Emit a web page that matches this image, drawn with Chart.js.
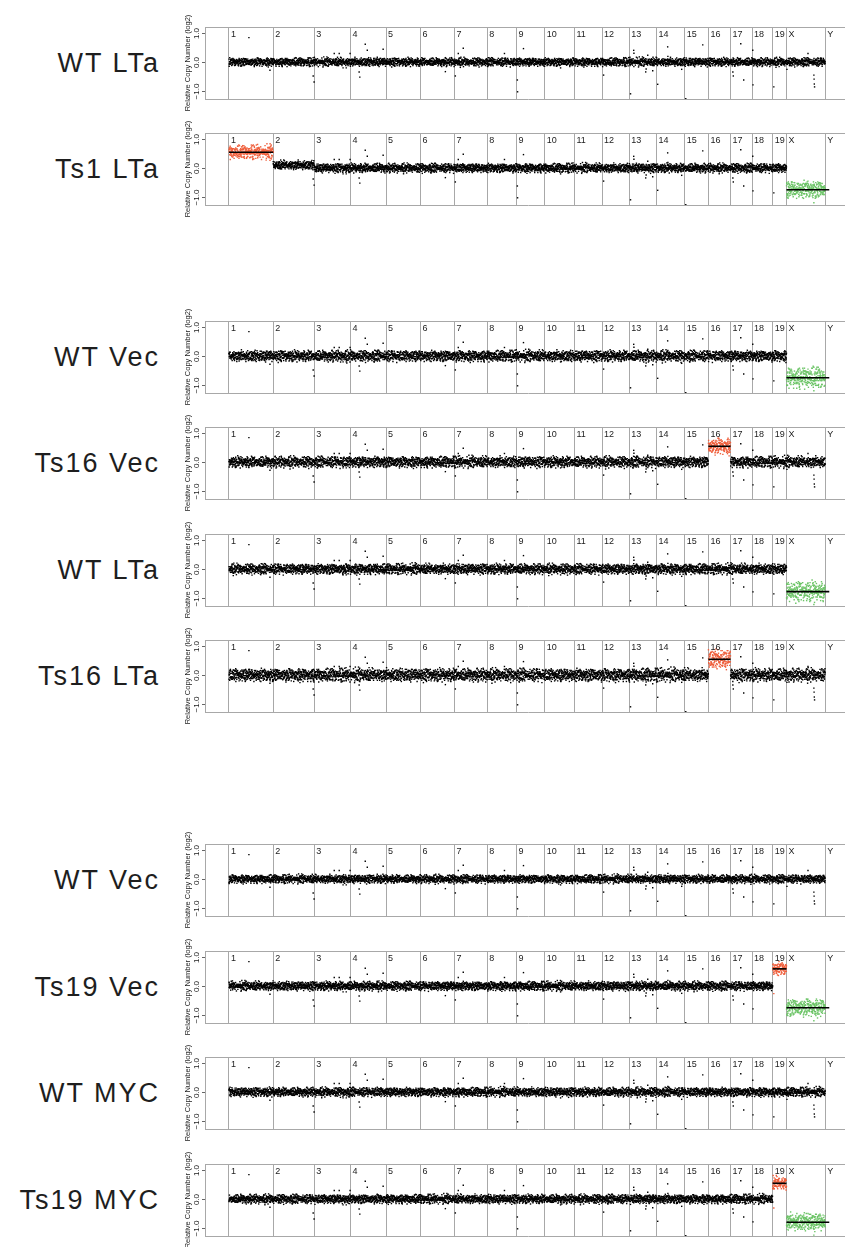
<!DOCTYPE html>
<html>
<head>
<meta charset="utf-8">
<script src="https://cdn.jsdelivr.net/npm/chart.js@4.4.1/dist/chart.umd.min.js"></script>
<style>
    html, body {
        margin: 0;
        padding: 0;
        background: #fff;
        overflow: hidden;
        width: 845px;
        height: 1247px;
    }
    .label {
        position: absolute;
        left: 0;
        width: 160px;
        text-align: right;
        font-family: "Liberation Sans", Arial, Helvetica, sans-serif;
        font-size: 27px;
        line-height: 30px;
        color: #1e1e1e;
        letter-spacing: 2px;
        white-space: nowrap;
    }
    canvas {
        position: absolute;
        left: 170px;
    }
</style>
</head>
<body>
<script>
    // chromosomes (mouse, Mb)
    const chromNames = ['1','2','3','4','5','6','7','8','9','10','11','12','13','14','15','16','17','18','19','X','Y']
    const chromLengths = [195,182,160,157,152,150,145,129,125,131,122,120,121,125,104,98,95,91,61,171,92]

    const panelLabels = ['WT LTa','Ts1 LTa','WT Vec','Ts16 Vec','WT LTa','Ts16 LTa','WT Vec','Ts19 Vec','WT MYC','Ts19 MYC']

    // segment level (log2) for chromosomes 1..19, X in each panel
    const levelsWtLTa1  = [0,0,0,0,0,0,0,0,0,0,0,0,0,0,0,0,0,0,0,0]
    const levelsTs1LTa  = [0.55,0.1,0,0,0,0,0,0,0,0,0,0,0,0,0,0,0,0,0,-0.75]
    const levelsWtVec1  = [0,0,0,0,0,0,0,0,0,0,0,0,0,0,0,0,0,0,0,-0.75]
    const levelsTs16Vec = [0,0,0,0,0,0,0,0,0,0,0,0,0,0,0,0.55,0,0,0,0]
    const levelsWtLTa2  = [0,0,0,0,0,0,0,0,0,0,0,0,0,0,0,0,0,0,0,-0.78]
    const levelsTs16LTa = [0,0,0,0,0,0,0,0,0,0,0,0,0,0,0,0.55,0,0,0,0]
    const levelsWtVec2  = [0,0,0,0,0,0,0,0,0,0,0,0,0,0,0,0,0,0,0,0]
    const levelsTs19Vec = [0,0,0,0,0,0,0,0,0,0,0,0,0,0,0,0,0,0,0.6,-0.75]
    const levelsWtMYC   = [0,0,0,0,0,0,0,0,0,0,0,0,0,0,0,0,0,0,0,0]
    const levelsTs19MYC = [0,0,0,0,0,0,0,0,0,0,0,0,0,0,0,0,0,0,0.55,-0.8]
    const panelLevels = [levelsWtLTa1, levelsTs1LTa, levelsWtVec1, levelsTs16Vec, levelsWtLTa2,
                         levelsTs16LTa, levelsWtVec2, levelsTs19Vec, levelsWtMYC, levelsTs19MYC]

    // how wide the probe cloud is in each panel
    const panelSpread = [1.3, 1.4, 1.7, 1.7, 1.6, 2.0, 1.3, 1.4, 1.4, 1.4]

    // probe scatter round the segment level, hundredths of log2
    const probeNoise = [3,-5,1,7,-2,-8,4,0,-3,6,-1,2,-6,9,-4,1,5,-7,2,-1,8,-3,0,4,-9,3,-2,6,-5,1,
                        -4,7,2,-6,0,3,-1,5,-3,-7,4,1,-2,8,-5,2,0,-4,6,-1,3,-8,5,-2,1,-6,4,0,7,-3,
                        2,-5,-1,6,-4,3,1,-7,5,-2,0,9,-3,4,-6,2,-1,5,-4,1,-8,3,6,-2,0,-5,4,-3,7,1,
                        -6,2,-1,5,-4,3,-2,8,-7,0,4]
    const probeWobble = [0,2,-3,1,4,-1,-4,3,0,-2,5,-3,1,2,-5,0,3,-1,-2,4,1,-4,2]

    // outlying probes: genome position (Mb), offset from segment level
    const outlierPos = [88,181,372,376,465,487,504,518,535,575,578,602,611,655,681,956,1000,1013,1035,1217,
                        1274,1275,1301,1465,1655,1774,1788,1789,1800,1841,1843,1850,1872,1894,1938,1939,2000,2018,2093,2226,
                        2228,2261,2274,2314,2315,2407,2465,2558,2584,2585,2586,2587]
    const outlierVal = [0.85,-0.28,-0.48,-0.69,0.3,0.3,-0.2,-0.2,0.3,-0.34,-0.52,0.62,0.41,0.17,0.45,-0.33,-0.48,0.3,0.48,0.3,
                        -0.62,-1.03,0.47,-0.2,-0.45,-1.1,0.41,0.31,0.17,-0.34,-0.24,0.24,-0.3,-0.77,0.53,0.2,-0.25,-1.27,0.6,-0.34,
                        -0.48,0.64,-0.62,0.41,-0.79,-0.86,-0.25,0.3,-0.45,-0.59,-0.76,-0.86]

    const yTicks = [1, 0, -1]
    const yTickText = ['1.0', '0.0', '\u22121.0']

    const panelTops = [27, 133, 321, 427, 534, 640, 844, 951, 1057, 1164]
    const PAD = 24
    const RED = '#ef5f3c'
    const GREEN = '#6cc467'

    const chromStarts = []
    let acc = 0
    chromLengths.forEach(l => { chromStarts.push(acc); acc += l })

    const frameAndText = {
        id: 'frameAndText',
        afterDraw(chart) {
            const c = chart.ctx
            const a = chart.chartArea
            const xs = chart.scales.x
            const ys = chart.scales.y
            c.save()
            c.strokeStyle = '#a8a8a8'
            c.lineWidth = 1
            c.beginPath()
            c.moveTo(a.left, a.top + 0.5)
            c.lineTo(a.right, a.top + 0.5)
            c.stroke()
            // chromosome names
            c.fillStyle = '#222'
            c.font = '9px "Liberation Sans", Arial, sans-serif'
            c.textBaseline = 'middle'
            c.textAlign = 'left'
            chromNames.forEach((n, i) => {
                c.fillText(n, xs.getPixelForValue(chromStarts[i]) + 2, ys.getPixelForValue(1.0) + 1)
            })
            // y ticks, rotated like R
            c.strokeStyle = '#666'
            yTicks.forEach((v, i) => {
                const py = Math.round(ys.getPixelForValue(v)) + 0.5
                c.beginPath()
                c.moveTo(a.left - 3, py)
                c.lineTo(a.left, py)
                c.stroke()
                c.save()
                c.translate(a.left - 8, py)
                c.rotate(-Math.PI / 2)
                c.textAlign = 'center'
                c.textBaseline = 'middle'
                c.font = '8px "Liberation Sans", Arial, sans-serif'
                c.fillText(yTickText[i], 0, 0)
                c.restore()
            })
            c.save()
            c.translate(a.left - 17, (a.top + a.bottom) / 2)
            c.rotate(-Math.PI / 2)
            c.textAlign = 'center'
            c.textBaseline = 'middle'
            c.font = '7.5px "Liberation Sans", Arial, sans-serif'
            c.fillText('Relative Copy Number (log2)', 0, 0)
            c.restore()
            c.restore()
        }
    }

    const buildPanel = (p) => {
        const levels = panelLevels[p]
        const spread = panelSpread[p]
        const black = [], red = [], green = []
        const bucket = (lv) => lv > 0.3 ? red : (lv < -0.3 ? green : black)
        let k = p * 13
        let w = p * 5
        for (let c = 0; c < 20; c++) {
            const lv = levels[c]
            const pts = bucket(lv)
            const s = spread * (Math.abs(lv) < 0.3 ? 1 : 1.5) * (c === 19 && lv < -0.3 ? 1.3 : 1)
            for (let m = 0.3; m < chromLengths[c]; m += 0.6) {
                k = (k + 37) % probeNoise.length
                w = (w + 7) % probeWobble.length
                pts.push({x: chromStarts[c] + m, y: lv + (probeNoise[k] + probeWobble[w]) * 0.01 * s})
            }
        }
        outlierPos.forEach((pos, i) => {
            let c = 0
            while (c < 19 && pos >= chromStarts[c + 1]) c++
            bucket(levels[c]).push({x: pos, y: levels[c] + outlierVal[i]})
        })
        const datasets = [
            {data: black, backgroundColor: '#000'},
            {data: red, backgroundColor: RED},
            {data: green, backgroundColor: GREEN}
        ].map(d => Object.assign(d, {type: 'scatter', pointRadius: 1, pointStyle: 'rect', borderWidth: 0, order: 2}))
        levels.forEach((lv, c) => {
            if (Math.abs(lv) < 0.3) return
            const end = chromStarts[c] + chromLengths[c] + (c === 19 ? 18 : 0)
            datasets.push({
                type: 'line', order: 1,
                data: [{x: chromStarts[c], y: lv}, {x: end, y: lv}],
                borderColor: '#000', borderWidth: 1.6, pointRadius: 0
            })
        })
        return datasets
    }

    panelLabels.forEach((name, p) => {
        const top = panelTops[p]
        const lab = document.createElement('div')
        lab.className = 'label'
        lab.style.top = (top + 36 - 15) + 'px'
        lab.textContent = name
        document.body.appendChild(lab)

        const cv = document.createElement('canvas')
        cv.width = 685
        cv.height = 72 + 2 * PAD
        cv.style.top = (top - PAD) + 'px'
        document.body.appendChild(cv)

        new Chart(cv.getContext('2d'), {
            type: 'scatter',
            data: {datasets: buildPanel(p)},
            options: {
                responsive: false,
                animation: false,
                devicePixelRatio: 1,
                events: [],
                layout: {padding: {top: PAD, bottom: PAD, left: 0, right: 0}},
                plugins: {legend: {display: false}, tooltip: {enabled: false}},
                scales: {
                    x: {
                        type: 'linear', min: -106, max: 2748,
                        ticks: {display: false},
                        grid: {color: '#a8a8a8', lineWidth: 1, drawTicks: false},
                        border: {display: true, color: '#a8a8a8'},
                        afterBuildTicks: (s) => { s.ticks = chromStarts.map(v => ({value: v})) },
                        afterFit: (s) => { s.height = 0 }
                    },
                    y: {
                        min: -1.28, max: 1.22,
                        ticks: {display: false},
                        grid: {display: false},
                        border: {display: true, color: '#a8a8a8'},
                        afterFit: (s) => { s.width = 35 }
                    }
                }
            },
            plugins: [frameAndText]
        })
    })
</script>
</body>
</html>
